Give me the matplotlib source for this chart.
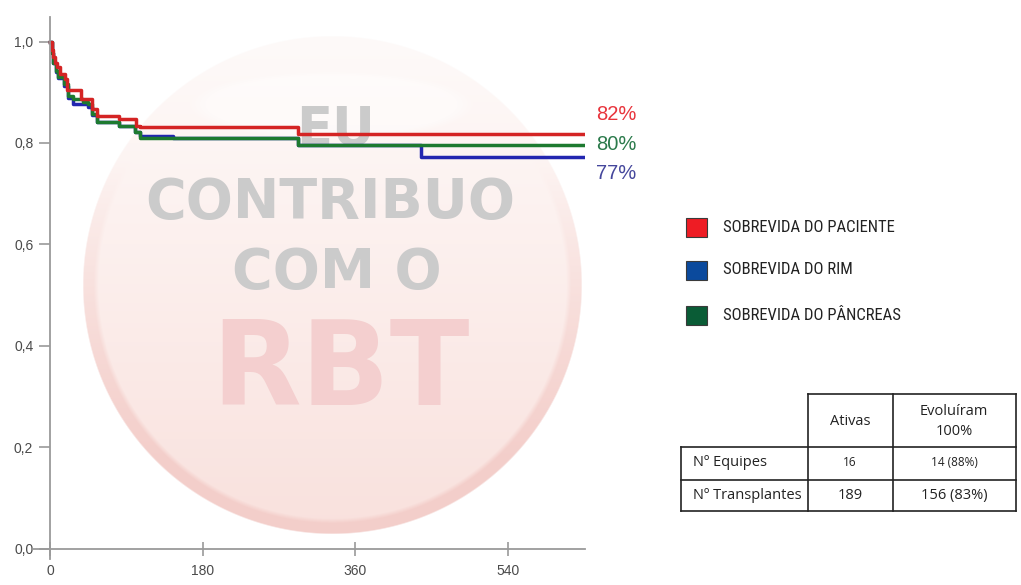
"""
Kaplan-Meier style survival curves (paciente / rim / pâncreas) with RBT watermark,
legend squares and summary table. Saves out.png.
"""
import numpy as np
import matplotlib
matplotlib.use('Agg')
import matplotlib.pyplot as plt
from matplotlib import font_manager
from matplotlib.patches import Rectangle

# ── data ───────────────────────────────────────────────────────────────────────
paciente_t = [0, 2, 4, 6, 8, 12, 18, 20, 37, 49, 55, 81, 102, 106, 292, 628]
paciente_s = [1.0, 0.984, 0.969, 0.958, 0.949, 0.936, 0.926, 0.905, 0.887,
              0.867, 0.854, 0.848, 0.834, 0.831, 0.817, 0.817]

rim_t = [0, 2, 4, 7, 10, 16, 21, 27, 45, 49, 55, 81, 100, 106, 145, 292, 438, 628]
rim_s = [1.0, 0.978, 0.958, 0.940, 0.928, 0.912, 0.888, 0.876, 0.870, 0.855,
         0.841, 0.834, 0.821, 0.814, 0.809, 0.795, 0.772, 0.772]

pancreas_t = [0, 2, 4, 7, 10, 16, 21, 27, 39, 45, 49, 55, 81, 100, 106, 292, 628]
pancreas_s = [1.0, 0.978, 0.958, 0.942, 0.930, 0.917, 0.893, 0.887, 0.880, 0.877,
              0.857, 0.841, 0.834, 0.821, 0.809, 0.795, 0.795]

final_labels = ['82%', '80%', '77%']
legend_labels = ['SOBREVIDA DO PACIENTE', 'SOBREVIDA DO RIM', 'SOBREVIDA DO PÂNCREAS']

x_ticks = [0, 180, 360, 540]
y_ticks = [0.0, 0.2, 0.4, 0.6, 0.8, 1.0]
y_tick_labels = ['0,0', '0,2', '0,4', '0,6', '0,8', '1,0']

table_header = ['', 'Ativas', 'Evoluíram\n100%']
table_rows = [['Nº Equipes', '16', '14 (88%)'],
              ['Nº Transplantes', '189', '156 (83%)']]

watermark = ['EU', 'CONTRIBUO', 'COM O', 'RBT']

# ── colours ────────────────────────────────────────────────────────────────────
LINE_RED, LINE_BLUE, LINE_GREEN = '#d42424', '#2226b0', '#1d7a30'
LBL_RED, LBL_GREEN, LBL_BLUE = '#e8343c', '#2b7a4b', '#45479c'
SQ_COLORS = ['#ee1c24', '#0b4a9d', '#0a5c36']
AXIS = '#9a9a9a'
TICKTXT = '#4a4a4a'
WM_GRAY = '#cbcbcb'
WM_PINK = '#f4cfcf'

# narrow font for the legend if one is around
_names = {f.name for f in font_manager.fontManager.ttflist}
NARROW = None
for cand in ('Liberation Sans Narrow', 'Roboto Condensed', 'Open Sans Condensed',
             'Arial Narrow'):
    if cand in _names:
        NARROW = cand
        break

W, H = 1021, 585
fig = plt.figure(figsize=(W / 100, H / 100), dpi=100)
fig.patch.set_facecolor('white')

# background overlay in pixel coordinates (watermark, legend, table)
bg = fig.add_axes([0, 0, 1, 1], zorder=0)
bg.axis('off')


def hex_rgb(h):
    h = h.lstrip('#')
    return np.array([int(h[i:i + 2], 16) for i in (0, 2, 4)]) / 255.0


# ── watermark disc ─────────────────────────────────────────────────────────────
cx, cy, r = 332, 285, 250
n = 500
xs = np.linspace(cx - r, cx + r, n)
ys = np.linspace(cy - r, cy + r, n)
X, Y = np.meshgrid(xs, ys)
d = np.hypot(X - cx, Y - cy) / r
t = (Y - (cy - r)) / (2 * r)
top_c, bot_c = hex_rgb('#fefaf9'), hex_rgb('#f9e1dd')
img = np.zeros((n, n, 4))
for k in range(3):
    img[..., k] = top_c[k] + (bot_c[k] - top_c[k]) * t ** 1.05
# darker rim ring, stronger towards the bottom
ring_c = hex_rgb('#f3ccc8')
ring_w = np.clip((d - 0.935) / 0.02, 0, 1) * np.clip((t - 0.25) / 0.6, 0, 1) * 0.9
for k in range(3):
    img[..., k] = img[..., k] * (1 - ring_w) + ring_c[k] * ring_w
# soft highlight ellipse near the top
e = ((X - 331) / 142) ** 2 + ((Y - 105) / 34) ** 2
hl = np.clip((1.0 - e) / 0.25, 0, 1) * 0.45
for k in range(3):
    img[..., k] = img[..., k] * (1 - hl) + 1.0 * hl
img[..., 3] = np.clip((1.0 - d) * r / 1.5, 0, 1)
bg.imshow(img, extent=[cx - r, cx + r, cy + r, cy - r], origin='upper',
          aspect='auto', interpolation='bilinear')

wm_kw = dict(ha='center', va='baseline', family='DejaVu Sans', weight='bold')
bg.text(336, 145, watermark[0], fontsize=38, color=WM_GRAY, **wm_kw)
bg.text(330, 218, watermark[1], fontsize=40, color=WM_GRAY, **wm_kw)
bg.text(337, 288, watermark[2], fontsize=40, color=WM_GRAY, **wm_kw)
bg.text(340, 405, watermark[3], fontsize=84, color=WM_PINK, **wm_kw)

# ── legend squares ─────────────────────────────────────────────────────────────
legend_y = [227, 270, 315]
for c, lab, yy in zip(SQ_COLORS, legend_labels, legend_y):
    bg.add_patch(Rectangle((686, yy - 9.5), 21, 19, fc=c, ec='#3a3a3a', lw=0.8))
    if NARROW:
        bg.text(723, yy, lab, ha='left', va='center', fontsize=12,
                color='#222222', family=NARROW)
    else:
        bg.text(723, yy + 0.5, lab, ha='left', va='center', fontsize=10.2,
                color='#222222', family='Liberation Sans')

# ── table ──────────────────────────────────────────────────────────────────────
col_x = [681, 807.5, 892.5, 1016]
row_y = [394, 446.5, 479.5, 511]
lk = dict(color='#222222', lw=1.2, solid_capstyle='projecting')
bg.plot([col_x[1], col_x[3]], [row_y[0], row_y[0]], **lk)
for yy in row_y[1:]:
    bg.plot([col_x[0], col_x[3]], [yy, yy], **lk)
bg.plot([col_x[0], col_x[0]], [row_y[1], row_y[3]], **lk)
for xx in col_x[1:]:
    bg.plot([xx, xx], [row_y[0], row_y[3]], **lk)

tfont = ['Open Sans', 'DejaVu Sans']
for j, h in enumerate(table_header):
    if h:
        bg.text((col_x[j] + col_x[j + 1]) / 2, (row_y[0] + row_y[1]) / 2 + 1, h,
                ha='center', va='center', fontsize=10.5, color='#222222',
                family=tfont, linespacing=1.45)
for i, row in enumerate(table_rows):
    ymid = (row_y[i + 1] + row_y[i + 2]) / 2
    for j, val in enumerate(row):
        if j == 0:
            bg.text(col_x[0] + 12, ymid, val, ha='left', va='center',
                    fontsize=10.5, color='#222222', family=tfont)
        else:
            bg.text((col_x[j] + col_x[j + 1]) / 2, ymid, val, ha='center',
                    va='center', fontsize=8.5 if i == 0 else 10.5,
                    color='#222222', family=tfont)

bg.set_xlim(0, W)
bg.set_ylim(H, 0)

# ── main survival axes ─────────────────────────────────────────────────────────
ax = fig.add_axes([33 / W, 1 - 558.5 / H, 552 / W, 541.8 / H], zorder=1)
ax.set_facecolor('none')

ax.step(rim_t, rim_s, where='post', color=LINE_BLUE, lw=2.5)
ax.step(pancreas_t, pancreas_s, where='post', color=LINE_GREEN, lw=2.5)
ax.step(paciente_t, paciente_s, where='post', color=LINE_RED, lw=2.5)

lbl_specs = [(paciente_t[-1], paciente_s[-1], final_labels[0], LBL_RED, 14.5),
             (pancreas_t[-1], pancreas_s[-1], final_labels[1], LBL_GREEN, 0.5),
             (rim_t[-1], rim_s[-1], final_labels[2], LBL_BLUE, -11.5)]
for xe, ye, s, c, dy in lbl_specs:
    ax.annotate(s, (xe, ye), xytext=(10, dy), textcoords='offset points',
                ha='left', va='center', fontsize=14.5, color=c,
                family='Liberation Sans', annotation_clip=False)

ax.set_xlim(-20.05, 630.9)
ax.set_ylim(-0.0197, 1.049)
for side in ('top', 'right'):
    ax.spines[side].set_visible(False)
for side in ('left', 'bottom'):
    ax.spines[side].set_position(('data', 0))
    ax.spines[side].set_color(AXIS)
    ax.spines[side].set_linewidth(1.3)

ax.set_xticks(x_ticks)
ax.set_xticklabels([str(v) for v in x_ticks])
ax.set_yticks(y_ticks)
ax.set_yticklabels(y_tick_labels)
ax.tick_params(axis='x', direction='inout', length=10, width=1.2, color=AXIS,
               labelsize=10, labelcolor=TICKTXT, pad=6)
ax.tick_params(axis='y', direction='out', length=8, width=1.2, color=AXIS,
               labelsize=10, labelcolor=TICKTXT, pad=4)
for lab in ax.get_xticklabels() + ax.get_yticklabels():
    lab.set_family('Liberation Sans')

fig.savefig('out.png', dpi=100, facecolor='white')
